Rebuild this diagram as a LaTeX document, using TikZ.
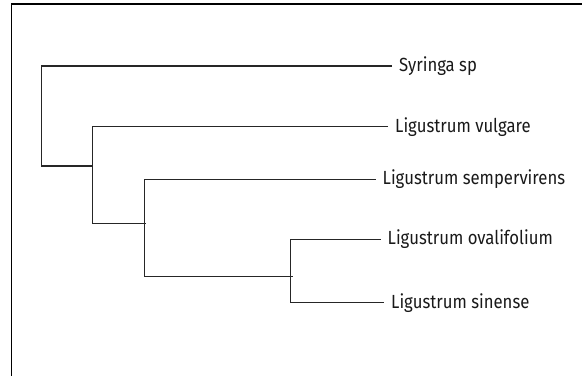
\documentclass[tikz,border=0pt]{standalone}
\usepackage{fontspec}
\newfontfamily\leaffont[FakeStretch=0.88]{Fira Sans}
\usetikzlibrary{positioning}
\tikzset{leaf/.style = {anchor=west, inner xsep=7pt, inner ysep=0pt,
  font=\leaffont\fontsize{19}{19}\selectfont, text=black!90}}
\tikzset{branch/.style = {line width=1.5pt, draw=black!85}}
\tikzset{frame/.style = {line width=1.5pt, draw=black}}

\begin{document}
\begin{tikzpicture}[x=1pt, y=-1pt]
  \useasboundingbox (0,0) rectangle (582,376);
  \draw[frame] (582,3.8) -- (11.7,3.8) -- (11.7,376);
  % leaves
  \node[leaf] (syr) at (392,66)    {Syringa sp};
  \node[leaf] (vul) at (388,126.7) {Ligustrum vulgare};
  \node[leaf] (sem) at (375.5,179.3) {Ligustrum sempervirens};
  \node[leaf] (ova) at (380.5,239.3) {Ligustrum ovalifolium};
  \node[leaf] (sin) at (384,302.7) {Ligustrum sinense};
  % inner nodes
  \coordinate (n1) at (41.7,166);
  \coordinate (n2) at (92.7,223.3);
  \coordinate (n3) at (144.3,276.7);
  \coordinate (n4) at (290.7,302.7);
  \draw[branch] (syr.west) -| (n1) -- (n1 -| n2);
  \draw[branch] (vul.west) -| (n2) -- ([xshift=2pt]n2 -| n3);
  \draw[branch] (sem.west) -| (n3) -- ([xshift=2pt]n3 -| n4);
  \draw[branch] (ova.west) -| (n4) -- (sin.west);
\end{tikzpicture}
\end{document}
